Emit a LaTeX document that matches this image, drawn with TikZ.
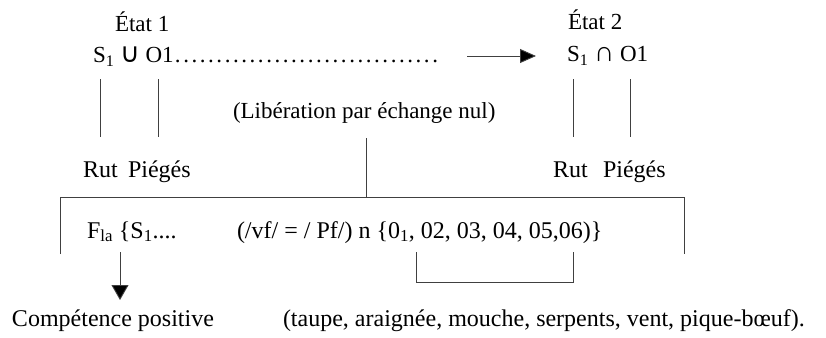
\documentclass[tikz,border=0pt]{standalone}
\usepackage{fontspec}
\setmainfont{Liberation Serif}
\newfontfamily\symsans{DejaVu Sans}
\usetikzlibrary{arrows.meta}
\begin{document}
\begin{tikzpicture}[x=1pt,y=-1pt,
  txt/.style={anchor=base west,inner sep=0pt,outer sep=0pt,font=\fontsize{24}{28}\selectfont},
  txts/.style={txt,font=\fontsize{23}{27}\selectfont},
  rule/.style={draw=black!75,line width=0.9pt},
  arr/.style={draw=black!75,line width=0.9pt,-{Triangle[length=16pt,width=14pt,fill=black]}}
]
\useasboundingbox (0,0) rectangle (826,337);
% top states
\node[txts] (e1) at (115,32) {État 1};
\node[txts] (s1) at (93,63) {S\textsubscript{1} {\symsans\fontsize{27}{27}\selectfont ∪} O1};
\node[txts,anchor=base west] (dots) at (s1.base east) {\foreach \i in {1,...,32}{\makebox[8.3pt]{.}}};
\node[txts] (e2) at (568,30) {État 2};
\node[txts] (s2) at (567,62) {S\textsubscript{1} {\fontsize{28}{28}\selectfont ∩} O1};
\coordinate (a1) at (467,56);
\coordinate (a2) at (536,56);
\draw[arr] (a1) -- (a2);
% vertical lines under states
\coordinate (l1t) at (100,79); \coordinate (l1b) at (100,137);
\coordinate (l2t) at (158,79); \coordinate (l2b) at (158,137);
\coordinate (l3t) at (573,79); \coordinate (l3b) at (573,137);
\coordinate (l4t) at (630,79); \coordinate (l4b) at (630,137);
\draw[rule] (l1t) -- (l1b);
\draw[rule] (l2t) -- (l2b);
\draw[rule] (l3t) -- (l3b);
\draw[rule] (l4t) -- (l4b);
\node[txts] (lib) at (233,118) {(Libération par échange nul)};
\node[txt] (rut1) at (83,177) {Rut};
\node[txt] (pie1) at (128,177) {Piégés};
\node[txt] (rut2) at (553,177) {Rut};
\node[txt] (pie2) at (603,177) {Piégés};
% big bracket
\coordinate (ct) at (366,138);
\coordinate (cb) at (366,197);
\coordinate (bl) at (60,254);
\coordinate (br) at (684,254);
\coordinate (brt) at (684,197);
\draw[rule] (ct) -- (cb);
\draw[rule] (bl) |- (brt) -- (br);
% formula row
\node[txt] (fla) at (87,238) {F\textsubscript{la} \{S\textsubscript{1}\makebox[38pt][l]{....}};
\node[txt] (form) at (237,238) {(/vf/ = / Pf/) n \{0\textsubscript{1}, 02, 03, 04, 05,06)\}};
% down arrow
\coordinate (d1) at (120,252);
\coordinate (d2) at (120,300);
\draw[draw=black!75,line width=0.9pt,-{Triangle[length=15pt,width=17pt,fill=black]}] (d1) -- (d2);
% small bracket
\coordinate (sb1) at (416,252);
\coordinate (sb2) at (573,252);
\draw[rule] (sb1) -- ++(0,30) -| (sb2);
% bottom texts
\node[txt] (comp) at (12,326) {Compétence positive};
\node[txt] (list) at (283,326) {(taupe, araignée, mouche, serpents, vent, pique-bœuf).};
\end{tikzpicture}
\end{document}
